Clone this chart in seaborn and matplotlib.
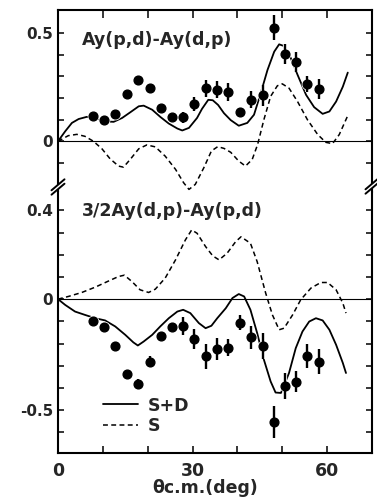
import numpy as np
import pandas as pd
import matplotlib
matplotlib.use("Agg")
import matplotlib.pyplot as plt
import seaborn as sns
from matplotlib.lines import Line2D
from matplotlib.patches import Polygon

# ---------------- data ----------------
theta_pts = [7.8, 10.3, 12.8, 15.3, 17.8, 20.4, 22.9, 25.4, 27.9, 30.4, 32.9,
             35.4, 37.9, 40.5, 43.0, 45.6, 48.1, 50.6, 53.1, 55.6, 58.2]

upper_vals = [0.115, 0.100, 0.126, 0.219, 0.282, 0.245, 0.154, 0.113, 0.111, 0.174, 0.246,
              0.239, 0.228, 0.134, 0.192, 0.212, 0.526, 0.403, 0.366, 0.265, 0.242]
upper_err = [0.015, 0.015, 0.015, 0.015, 0.02, 0.02, 0.015, 0.015, 0.025, 0.032, 0.04,
             0.04, 0.04, 0.02, 0.04, 0.05, 0.058, 0.046, 0.047, 0.038, 0.047]

lower_vals = [-0.097, -0.124, -0.210, -0.339, -0.383, -0.282, -0.166, -0.124, -0.121, -0.180, -0.257,
              -0.225, -0.219, -0.106, -0.172, -0.210, -0.554, -0.391, -0.373, -0.257, -0.282]
lower_err = [0.015, 0.015, 0.015, 0.015, 0.022, 0.025, 0.015, 0.015, 0.041, 0.045, 0.056,
             0.049, 0.038, 0.035, 0.052, 0.059, 0.07, 0.06, 0.047, 0.055, 0.055]

# S+D curve, upper panel
sd_up_x = [0, 1.6, 3.1, 4.6, 6.4, 8.3, 10.5, 12.4, 14.3, 16.1, 18.0, 19.1, 21.0, 22.8, 24.7,
           26.6, 27.7, 29.2, 31.0, 32.1, 33.5, 34.5, 35.7, 37.0, 38.5, 40.3, 42.2, 43.7, 45.2,
           46.7, 48.2, 49.3, 50.4, 51.9, 53.4, 55.3, 57.1, 59.0, 60.5, 62.0, 63.5, 64.6]
sd_up_y = [0, 0.046, 0.085, 0.103, 0.113, 0.108, 0.092, 0.090, 0.108, 0.134, 0.162, 0.165, 0.146,
           0.113, 0.082, 0.059, 0.050, 0.062, 0.108, 0.150, 0.192, 0.190, 0.168, 0.130, 0.098,
           0.072, 0.085, 0.123, 0.223, 0.330, 0.415, 0.449, 0.441, 0.385, 0.308, 0.215, 0.158,
           0.127, 0.138, 0.184, 0.253, 0.318]

# S curve, upper panel
s_up_x = [0, 2.3, 4.2, 6.0, 7.9, 9.8, 11.6, 13.5, 14.6, 16.1, 18.0, 19.8, 21.7, 23.9, 26.2,
          28.0, 29.2, 30.6, 32.5, 34.2, 35.6, 37.0, 38.5, 40.3, 41.8, 43.3, 44.5, 45.9, 47.4,
          48.9, 50.0, 51.5, 53.4, 55.6, 57.9, 59.7, 61.2, 62.7, 64.6]
s_up_y = [0, 0.026, 0.032, 0.023, 0.0, -0.035, -0.081, -0.115, -0.120, -0.084, -0.035, -0.017,
          -0.026, -0.069, -0.130, -0.192, -0.223, -0.200, -0.123, -0.045, -0.025, -0.033, -0.051,
          -0.092, -0.115, -0.084, -0.015, 0.100, 0.208, 0.257, 0.266, 0.246, 0.184, 0.100, 0.031,
          -0.005, -0.011, 0.031, 0.119]

# S+D curve, lower panel
sd_lo_x = [0, 1.6, 3.8, 6.0, 8.3, 10.5, 12.75, 15.0, 16.8, 17.8, 19.1, 21.0, 22.8, 24.7, 26.6,
           27.9, 29.5, 31.4, 32.9, 34.2, 35.5, 37.4, 38.9, 40.3, 41.5, 42.9, 44.4, 45.9, 47.4,
           48.5, 49.7, 51.5, 53.0, 54.5, 56.0, 57.5, 59.0, 60.5, 62.0, 63.5, 64.2]
sd_lo_y = [0, -0.026, -0.056, -0.071, -0.086, -0.096, -0.123, -0.161, -0.195, -0.209, -0.191,
           -0.161, -0.123, -0.086, -0.056, -0.048, -0.063, -0.108, -0.131, -0.120, -0.086, -0.041,
           0.005, 0.023, 0.012, -0.048, -0.153, -0.273, -0.371, -0.421, -0.423, -0.333, -0.221,
           -0.146, -0.101, -0.086, -0.096, -0.138, -0.206, -0.288, -0.333]

# S curve, lower panel
s_lo_x = [0, 2.3, 5.3, 8.3, 11.3, 13.5, 14.8, 16.5, 18.3, 20.2, 21.7, 23.9, 26.2, 28.4, 29.8,
          31.0, 32.9, 34.5, 35.9, 37.7, 39.6, 40.8, 42.9, 44.4, 46.3, 47.8, 49.3, 50.4, 52.3,
          54.1, 56.4, 58.6, 60.1, 62.0, 63.5, 64.2]
s_lo_y = [0, 0.012, 0.030, 0.054, 0.082, 0.102, 0.108, 0.079, 0.042, 0.030, 0.045, 0.095, 0.177,
          0.267, 0.312, 0.297, 0.237, 0.195, 0.177, 0.207, 0.259, 0.281, 0.252, 0.169, 0.027,
          -0.071, -0.138, -0.131, -0.071, -0.003, 0.050, 0.075, 0.075, 0.042, -0.018, -0.063]

x_ticks = [0, 10, 20, 30, 40, 50, 60, 70]
x_ticklabels = ['0', '', '', '30', '', '', '60', '']
up_ticks = [-0.1, 0.0, 0.1, 0.2, 0.3, 0.4, 0.5]
up_ticklabels = ['', '0', '', '', '', '', '0.5']
lo_ticks = [-0.6, -0.5, -0.4, -0.3, -0.2, -0.1, 0.0, 0.1, 0.2, 0.3, 0.4]
lo_ticklabels = ['', '-0.5', '', '', '', '', '0', '', '', '', '0.4']

# ---------------- style ----------------
sns.set_style("ticks")
plt.rcParams['font.family'] = ['DejaVu Sans']
plt.rcParams['font.weight'] = 'bold'

W, H = 377, 498
fig = plt.figure(figsize=(W / 100, H / 100), dpi=100)
L, R = 58 / W, 372 / W
top_up = 1 - 10 / H
junc = 1 - 192 / H
bot = 1 - 453.3 / H
ax1 = fig.add_axes([L, junc, R - L, top_up - junc])
ax2 = fig.add_axes([L, bot, R - L, junc - bot])

LW_SOLID = 1.3
LW_DASH = 1.1
DASH = (0, (3.2, 2.2))


def draw_panel(ax, sd_x, sd_y, s_x, s_y, vals, err):
    ax.axhline(0, color='black', lw=0.8, zorder=1)
    sns.lineplot(x=sd_x, y=sd_y, ax=ax, color='black', lw=LW_SOLID, sort=False,
                 estimator=None, zorder=2)
    sns.lineplot(x=s_x, y=s_y, ax=ax, color='black', lw=LW_DASH, linestyle=DASH,
                 sort=False, estimator=None, zorder=2)
    # white halo
    ax.errorbar(theta_pts, vals, yerr=err, fmt='o', color='white', ms=7.4,
                elinewidth=3.0, capsize=0, zorder=3)
    ax.errorbar(theta_pts, vals, yerr=err, fmt='o', color='black', ms=6.3,
                elinewidth=1.7, capsize=0, zorder=4)
    ax.set_xlim(0, 70)
    ax.set_xticks(x_ticks)
    for s in ax.spines.values():
        s.set_linewidth(1.5)
        s.set_color('black')


draw_panel(ax1, sd_up_x, sd_up_y, s_up_x, s_up_y, upper_vals, upper_err)
draw_panel(ax2, sd_lo_x, sd_lo_y, s_lo_x, s_lo_y, lower_vals, lower_err)

ax1.set_ylim(-0.235, 0.608)
ax2.set_ylim(-0.695, 0.483)

ax1.set_yticks(up_ticks)
ax1.set_yticklabels(up_ticklabels)
ax2.set_yticks(lo_ticks)
ax2.set_yticklabels(lo_ticklabels)
ax1.set_xticklabels([])
ax2.set_xticklabels(x_ticklabels)

ax1.spines['bottom'].set_visible(False)
ax2.spines['top'].set_visible(False)

ax1.tick_params(axis='x', which='both', direction='in', top=True, bottom=False,
                labelbottom=False, length=5.5, width=1.3)
ax1.tick_params(axis='y', direction='in', left=True, right=True, length=4.5, width=1.3,
                labelsize=11, pad=3.5)
ax2.tick_params(axis='x', direction='in', top=False, bottom=True, length=5, width=1.3,
                labelsize=12.5, pad=6)
ax2.tick_params(axis='y', direction='in', left=True, right=True, length=4.5, width=1.3,
                labelsize=11, pad=3.5)
for ax in (ax1, ax2):
    ax.set_xlabel('')
    ax.set_ylabel('')
    for lab in ax.get_xticklabels() + ax.get_yticklabels():
        lab.set_fontweight('bold')

ax1.text(5.4, 0.469, 'Ay(p,d)-Ay(d,p)', fontsize=12.5, fontweight='bold',
         ha='left', va='center')
ax2.text(5.4, 0.398, '3/2Ay(d,p)-Ay(p,d)', fontsize=12.5, fontweight='bold',
         ha='left', va='center')

handles = [Line2D([], [], color='black', lw=LW_SOLID),
           Line2D([], [], color='black', lw=LW_DASH, linestyle=DASH)]
ax2.legend(handles=handles, labels=['S+D', 'S'], loc='center left',
           bbox_to_anchor=(0.1433, 0.1435), frameon=False, borderpad=0,
           borderaxespad=0, handlelength=2.0, handletextpad=0.6, labelspacing=0.15,
           prop={'weight': 'bold', 'size': 12.5})

fig.text(205 / W, 1 - 488 / H, 'θc.m.(deg)', fontsize=12.5, fontweight='bold',
         ha='center', va='center')


# axis-break marks
def px(x, y):
    return (x / W, 1 - y / H)


def brk(cx, cy):
    dx, dy, off = 6.5, 5.5, 2.2
    poly = [px(cx - dx, cy + dy - off), px(cx + dx, cy - dy - off),
            px(cx + dx, cy - dy + off), px(cx - dx, cy + dy + off)]
    fig.add_artist(Polygon(poly, closed=True, facecolor='white', edgecolor='none',
                           transform=fig.transFigure, zorder=10))
    for o in (-off, off):
        p0 = px(cx - dx, cy + dy + o)
        p1 = px(cx + dx, cy - dy + o)
        fig.add_artist(Line2D([p0[0], p1[0]], [p0[1], p1[1]], color='black', lw=1.4,
                              transform=fig.transFigure, zorder=11))


brk(58, 187)
brk(372, 186)

fig.savefig('out.png', dpi=100)
